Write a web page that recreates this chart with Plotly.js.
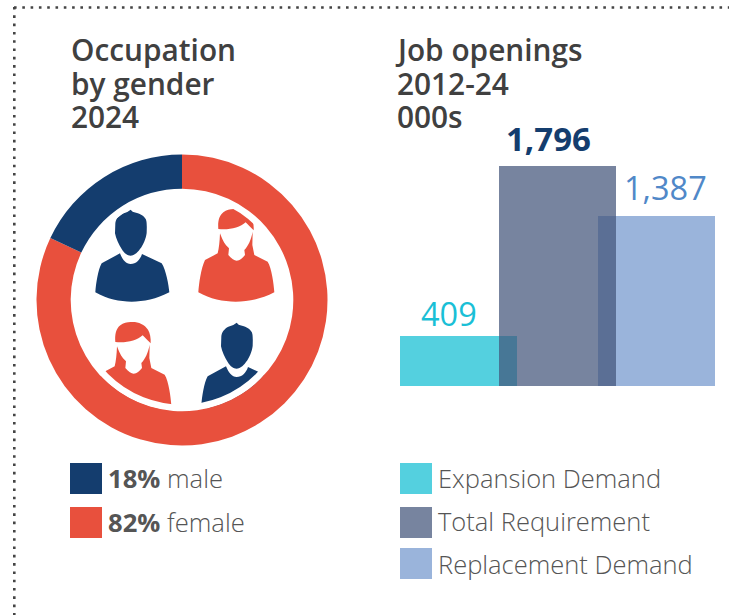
<!DOCTYPE html>
<html><head><meta charset="utf-8">
<script src="https://cdn.plot.ly/plotly-3.0.1.min.js"></script>
<style>html,body{margin:0;padding:0;background:#fff}#chart{width:729px;height:615px}</style>
</head><body><div id="chart"></div>
<script>
// ---- data ----
const genderLabels = ['Female', 'Male'];
const genderValues = [82, 18];
const demandLabels = ['Expansion Demand', 'Replacement Demand', 'Total Requirement'];
const demandValues = [409, 1387, 1796];
const demandText = ['409', '1,387', '1,796'];
const titleLeft = ['Occupation', 'by gender', '2024'];
const titleRight = ['Job openings', '2012-24', '000s'];

// ---- style ----
const W = 729, H = 615;
const NAVY = '#143D6E', RED = '#E8503D', DARK = '#404040', LIGHT = '#555555';
const FONT = '"Open Sans", sans-serif';
const px = x => x / W, py = y => 1 - y / H;

// icon outlines, in 1/3 px local units
const MALE = 'M75 85 L76 55 C77 43 85 32 97 26 L112 21 L122 14 L128 20 C140 23 160 28 167 42 C170 48 171 55 170 84 C168 100 160 120 150 132 C140 146 130 152 122 152 C112 152 104 146 95 132 C86 118 78 100 75 85 Z ' +
  'M90 145 C98 165 108 177 122 177 C138 177 150 165 156 147 L215 175 C228 195 236 240 238 262 C200 282 160 290 125 290 C90 290 50 282 16 262 C18 235 24 195 35 175 Z';
const FEMALE = 'M70 72 C68 50 72 32 85 22 C95 13 110 11 122 12 C140 12 158 20 168 35 C174 45 177 60 176 76 L166 66 L152 52 C135 68 100 76 70 72 Z ' +
  'M75 85 C84 110 90 118 102 130 L100 150 C110 162 118 167 125 167 C135 167 142 160 150 150 L148 135 C160 122 168 105 173 80 L172 120 L178 150 L218 170 C230 190 236 235 238 262 C200 282 160 290 122 290 C85 290 45 282 10 262 C12 235 18 190 30 165 L68 145 C72 130 74 110 75 85 Z';

function place(path, ox, oy) {
  // local units -> paper coordinates
  return path.replace(/(-?[\d.]+) (-?[\d.]+)/g, (m, a, b) =>
    px(ox + a / 3).toFixed(5) + ',' + py(oy + b / 3).toFixed(5));
}
const icon = (path, ox, oy, color) => ({
  type: 'path', xref: 'paper', yref: 'paper', layer: 'below',
  path: place(path, ox, oy), fillcolor: color, line: {width: 0}
});
const square = (x, y, color) => ({
  type: 'rect', xref: 'paper', yref: 'paper',
  x0: px(x), x1: px(x + 32), y0: py(y), y1: py(y + 31),
  fillcolor: color, line: {width: 0}
});
const textAt = (x, y, text, size, color, weight, anchor) => ({
  xref: 'paper', yref: 'paper', x: px(x), y: py(y), text, showarrow: false,
  xanchor: anchor || 'left', yanchor: 'middle', align: 'left',
  font: {family: FONT, size, color, weight: weight || 400}
});

const CX = 182, CY = 300, R = 145.5;
const barStep = 99 / 117; // bar widths overlap
const barX = [0, 2 * barStep, barStep];
const barColors = ['#54D0DF', '#9AB4DB', 'rgba(66,85,122,0.72)'];
const valueColors = ['#1ABFD6', '#5088C8', NAVY];

const traces = [
  {type: 'pie', labels: genderLabels, values: genderValues, sort: false,
   direction: 'clockwise', rotation: 0, hole: 0.765, textinfo: 'none',
   marker: {colors: [RED, NAVY], line: {width: 0}}, showlegend: false, hoverinfo: 'label+percent',
   domain: {x: [px(CX - R), px(CX + R)], y: [py(CY + R), py(CY - R)]}}
].concat(demandLabels.map((name, i) => ({
  type: 'bar', name, x: [barX[i]], y: [demandValues[i]], width: 1,
  marker: {color: barColors[i], line: {width: 0}}, showlegend: false
})));

const annotations = [];
titleLeft.forEach((t, i) => annotations.push(textAt(69, 49 + i * 34, t, 29.8, DARK, 600)));
titleRight.forEach((t, i) => annotations.push(textAt(i === 0 ? 393 : 395, 49 + i * 34, t, 29.8, DARK, 600)));
annotations.push(textAt(449, 313, demandText[0], 32.5, valueColors[0], 400, 'center'));
annotations.push(textAt(548.5, 138, demandText[2], 33, valueColors[2], 700, 'center'));
annotations.push(textAt(665, 188, demandText[1], 32.5, valueColors[1], 400, 'center'));
annotations.push(textAt(106, 478, '<b>18%</b> male', 25.6, LIGHT, 300));
annotations.push(textAt(106, 522, '<b>82%</b> female', 25.6, LIGHT, 300));
annotations.push(textAt(435.5, 478, demandLabels[0], 25.5, LIGHT, 300));
annotations.push(textAt(435.5, 521, demandLabels[2], 25.5, LIGHT, 300));
annotations.push(textAt(435.5, 564, demandLabels[1], 25.5, LIGHT, 300));

const shapes = [
  {type: 'line', xref: 'paper', yref: 'paper', x0: px(14), x1: 1, y0: py(7.5), y1: py(7.5),
   line: {color: '#444', width: 2.6, dash: '2.6px,5.7px'}},
  {type: 'line', xref: 'paper', yref: 'paper', x0: px(14.3), x1: px(14.3), y0: py(7), y1: 0,
   line: {color: '#444', width: 2.6, dash: '2.6px,5.7px'}},
  icon(MALE, 90, 205, NAVY),
  icon(FEMALE, 195, 205, RED),
  icon(FEMALE, 92, 318, RED),
  icon(MALE, 196, 318, NAVY),
  // white gap between the ring and the clipped lower figures
  {type: 'circle', xref: 'paper', yref: 'paper', layer: 'below',
   x0: px(CX - 108), x1: px(CX + 108), y0: py(CY + 108), y1: py(CY - 108),
   line: {color: '#fff', width: 7}, fillcolor: 'rgba(0,0,0,0)'},
  square(70, 463, NAVY), square(70, 507, RED),
  square(400, 463, '#54D0DF'), square(400, 507, '#77849F'), square(400, 548, '#9AB4DB')
];

const layout = {
  width: W, height: H, margin: {l: 0, r: 0, t: 0, b: 0},
  paper_bgcolor: '#fff', plot_bgcolor: 'rgba(0,0,0,0)',
  barmode: 'overlay', bargap: 0, showlegend: false,
  font: {family: FONT},
  xaxis: {domain: [px(400), px(715)], range: [-0.5, 0.5 + 2 * barStep], visible: false, fixedrange: true},
  yaxis: {domain: [py(386), py(166)], range: [0, 1796], visible: false, fixedrange: true},
  annotations, shapes
};
Plotly.newPlot('chart', traces, layout, {displayModeBar: false, staticPlot: true});
</script></body></html>
